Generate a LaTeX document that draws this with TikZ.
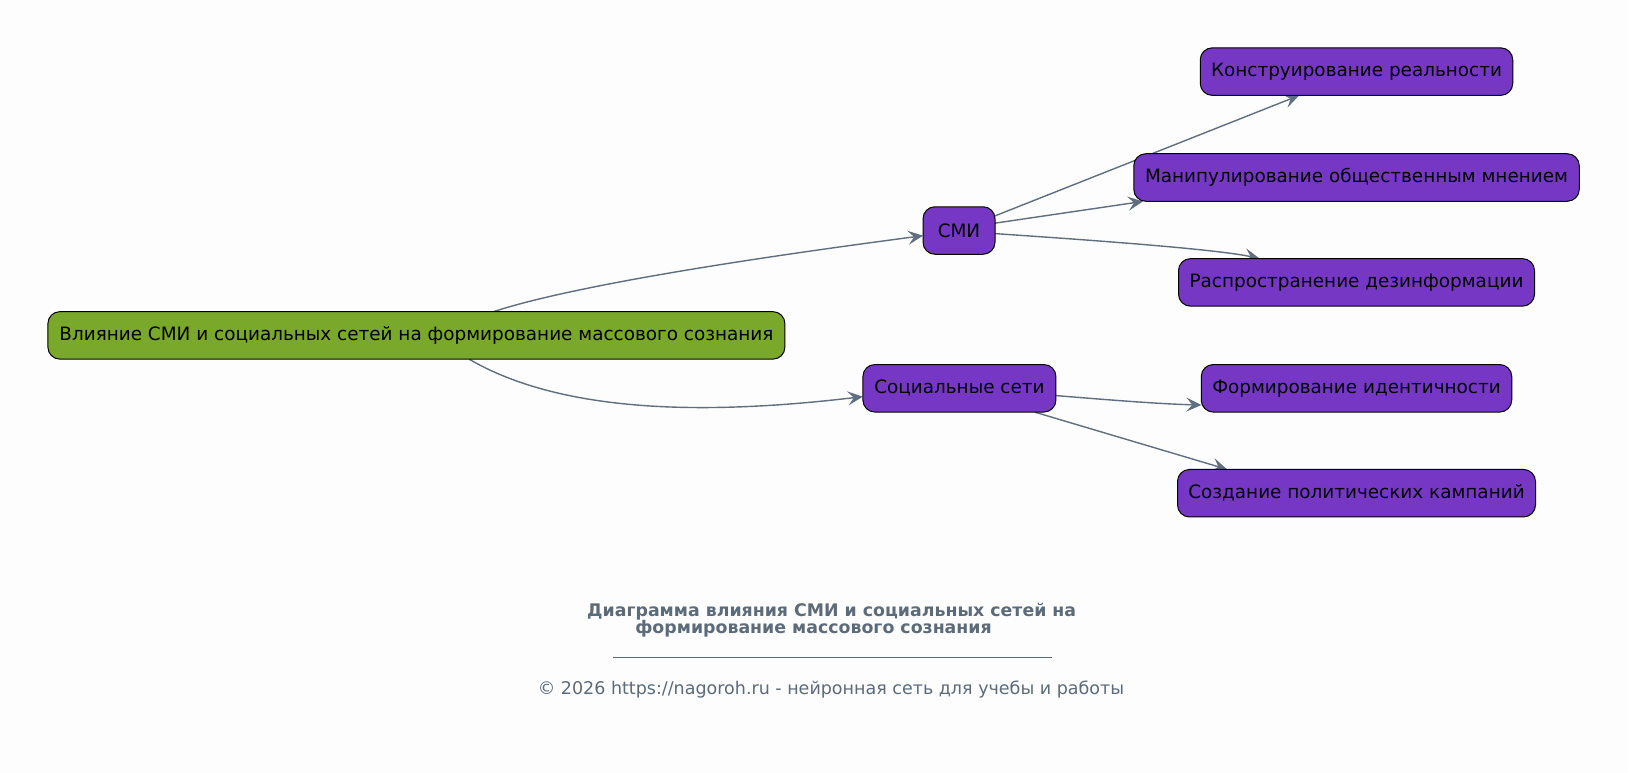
\documentclass[tikz,border=0pt]{standalone}
\usepackage{fontspec}
\setmainfont{DejaVu Sans}
\usetikzlibrary{arrows.meta}
\definecolor{bgc}{HTML}{FDFDFD}
\definecolor{purp}{HTML}{7638C4}
\definecolor{grn}{HTML}{7AA82A}
\definecolor{edgec}{HTML}{5F6F7F}
\definecolor{titlec}{HTML}{5C6B7A}
\tikzset{
  box/.style={draw=black, line width=1pt, rounded corners=12pt, minimum height=47.5pt,
    inner sep=0pt, align=center, font=\fontsize{18.4}{22}\selectfont, text=black},
  sub/.style={box, fill=purp},
  rootbox/.style={box, fill=grn},
  conn/.style={draw=edgec, line width=1.4pt, -{Stealth[length=15pt,width=14pt,inset=6pt]}},
}
\begin{document}
\begin{tikzpicture}[x=1pt,y=-1pt]
\fill[bgc] (0,0) rectangle (1628,773);
\useasboundingbox (0,0) rectangle (1628,773);
% anchors for connectors
\coordinate (r1) at (494,311.5);
\coordinate (r2) at (469.3,359.3);
\coordinate (m1) at (994.7,216);
\coordinate (m2) at (994.7,223.2);
\coordinate (m3) at (994.7,233.6);
\coordinate (s1) at (1056,395.6);
\coordinate (s2) at (1035,412.2);
\coordinate (tK) at (1299,95.5);
\coordinate (tM) at (1143,201.4);
\coordinate (tR) at (1259.5,258.5);
\coordinate (tF) at (1201.3,405);
\coordinate (tS) at (1227,469.3);
\coordinate (tSMI) at (923,235.7);
\coordinate (tSoc) at (862.8,396.6);
% connectors
\draw[conn] (r1) .. controls (560,290) and (700,265) .. (tSMI);
\draw[conn] (r2) .. controls (560,412) and (700,416) .. (tSoc);
\draw[conn] (m1) -- (tK);
\draw[conn] (m2) -- (tM);
\draw[conn] (m3) .. controls (1120,242) and (1220,250) .. (tR);
\draw[conn] (s1) .. controls (1110,400) and (1160,404) .. (tF);
\draw[conn] (s2) -- (tS);
% nodes
\node[rootbox, minimum width=737pt] (root) at (416.4,335.4) {Влияние СМИ и социальных сетей на формирование массового сознания};
\node[sub, minimum width=72pt] (smi) at (959,230.5) {СМИ};
\node[sub, minimum width=193pt] (soc) at (959.4,388.3) {Социальные сети};
\node[sub, minimum width=312.5pt] (kon) at (1356.5,71.6) {Конструирование реальности};
\node[sub, minimum width=445.5pt] (man) at (1356.5,177.5) {Манипулирование общественным мнением};
\node[sub, minimum width=356pt] (ras) at (1356.5,282.4) {Распространение дезинформации};
\node[sub, minimum width=310.5pt] (for) at (1356.5,388.3) {Формирование идентичности};
\node[sub, minimum width=358pt] (soz) at (1356.5,493.2) {Создание политических кампаний};
% title
\node[text=titlec, font=\fontsize{17.35}{21}\selectfont\bfseries] (t1) at (831.7,611.6) {Диаграмма влияния СМИ и социальных сетей на};
\node[text=titlec, font=\fontsize{17.35}{21}\selectfont\bfseries] (t2) at (813.5,629.2) {формирование массового сознания};
\coordinate (ul) at (612.6,657.2);
\coordinate (ur) at (1051.8,657.2);
\draw[titlec, line width=0.8pt] (ul) -- (ur);
\node[text=titlec, font=\fontsize{17.5}{21}\selectfont] (cp) at (831,689.4) {© 2026 https://nagoroh.ru - нейронная сеть для учебы и работы};
\end{tikzpicture}
\end{document}
